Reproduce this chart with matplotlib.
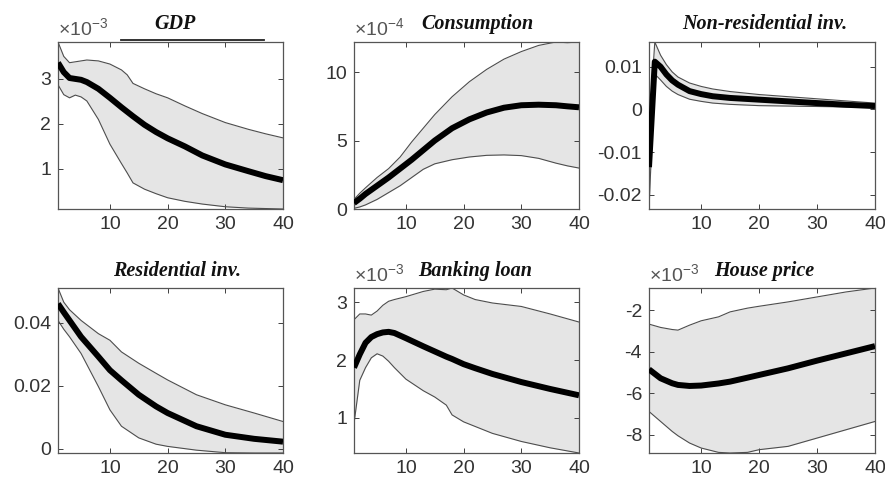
import matplotlib
matplotlib.use("Agg")
import matplotlib.pyplot as plt
from matplotlib.ticker import FuncFormatter
import numpy as np

# ---------------- data ----------------
titles = ["GDP", "Consumption", "Non-residential inv.",
          "Residential inv.", "Banking loan", "House price"]

gdp_x = [1, 2, 3, 4, 5, 6, 8, 10, 12, 13, 14, 16, 18, 20, 23, 26, 30, 34, 37, 40]
gdp_med = [3.36, 3.15, 3.02, 3.0, 2.98, 2.93, 2.78, 2.58, 2.37, 2.27, 2.17, 1.98, 1.82, 1.68, 1.5, 1.3, 1.1, 0.95, 0.84, 0.75]
gdp_up = [3.82, 3.5, 3.36, 3.38, 3.4, 3.42, 3.4, 3.33, 3.2, 3.09, 2.9, 2.78, 2.67, 2.58, 2.4, 2.23, 2.03, 1.88, 1.78, 1.69]
gdp_lo = [2.87, 2.65, 2.58, 2.64, 2.6, 2.51, 2.1, 1.55, 1.12, 0.91, 0.69, 0.55, 0.45, 0.36, 0.28, 0.22, 0.16, 0.13, 0.12, 0.11]

con_x = [1, 2, 3, 5, 7, 9, 11, 13, 15, 18, 21, 24, 27, 30, 33, 36, 38, 40]
con_med = [0.44, 0.75, 1.1, 1.7, 2.3, 2.95, 3.6, 4.3, 5.0, 5.9, 6.55, 7.05, 7.4, 7.58, 7.62, 7.58, 7.5, 7.43]
con_up = [0.7, 1.15, 1.55, 2.3, 2.95, 3.8, 4.9, 5.9, 6.9, 8.2, 9.3, 10.2, 10.95, 11.5, 11.95, 12.2, 12.15, 12.2]
con_lo = [0.05, 0.15, 0.3, 0.7, 1.2, 1.7, 2.3, 2.9, 3.3, 3.6, 3.8, 3.92, 3.95, 3.9, 3.7, 3.35, 3.15, 2.99]

nri_x = [1, 2, 3, 4, 5, 6, 8, 10, 12, 15, 20, 25, 30, 35, 40]
nri_med = [-0.0135, 0.0112, 0.0100, 0.0082, 0.0068, 0.0058, 0.0043, 0.0036, 0.0031, 0.0027, 0.0023, 0.0019, 0.0015, 0.0011, 0.0008]
nri_up = [-0.005, 0.0158, 0.0127, 0.0105, 0.0088, 0.0076, 0.0062, 0.0054, 0.0048, 0.0042, 0.0035, 0.0030, 0.0025, 0.0020, 0.0015]
nri_lo = [-0.0233, 0.0083, 0.0069, 0.0054, 0.0043, 0.0035, 0.0024, 0.0019, 0.0015, 0.0012, 0.0009, 0.0008, 0.0007, 0.0006, 0.0005]

res_x = [1, 2, 3, 5, 8, 10, 12, 15, 18, 20, 25, 30, 35, 40]
res_med = [0.0461, 0.0434, 0.0408, 0.0356, 0.0293, 0.0250, 0.0218, 0.0172, 0.0135, 0.0114, 0.0072, 0.0045, 0.0032, 0.0023]
res_up = [0.0511, 0.0466, 0.0442, 0.0408, 0.0366, 0.0345, 0.0308, 0.0272, 0.0240, 0.0219, 0.0172, 0.0140, 0.0114, 0.0087]
res_lo = [0.0408, 0.0380, 0.0356, 0.0303, 0.0198, 0.0124, 0.0072, 0.0035, 0.0015, 0.0008, -0.0004, -0.0012, -0.0013, -0.0013]

bank_x = [1, 2, 3, 4, 5, 6, 7, 8, 10, 13, 15, 17, 18, 20, 22, 25, 30, 35, 40]
bank_med = [1.87, 2.1, 2.3, 2.4, 2.45, 2.48, 2.49, 2.47, 2.38, 2.24, 2.15, 2.06, 2.02, 1.93, 1.86, 1.76, 1.62, 1.5, 1.39]
bank_up = [2.7, 2.8, 2.8, 2.78, 2.85, 2.95, 3.02, 3.05, 3.1, 3.19, 3.23, 3.22, 3.25, 3.13, 3.05, 2.99, 2.93, 2.8, 2.66]
bank_lo = [0.9, 1.65, 1.87, 2.04, 2.11, 2.07, 1.98, 1.87, 1.67, 1.47, 1.36, 1.22, 1.05, 0.93, 0.85, 0.73, 0.59, 0.48, 0.39]

hp_x = [1, 3, 5, 6, 8, 10, 13, 15, 18, 20, 25, 30, 35, 40]
hp_med = [-4.85, -5.28, -5.52, -5.6, -5.65, -5.63, -5.53, -5.44, -5.25, -5.12, -4.8, -4.43, -4.08, -3.73]
hp_up = [-2.67, -2.83, -2.93, -2.96, -2.72, -2.51, -2.32, -2.08, -1.9, -1.81, -1.6, -1.36, -1.12, -0.93]
hp_lo = [-6.88, -7.36, -7.84, -8.05, -8.4, -8.64, -8.85, -8.88, -8.85, -8.72, -8.56, -8.16, -7.76, -7.36]

# scale factors of the values above (power of ten shown above the axes)
exponents = [-3, -4, 0, 0, -3, -3]
xticks = [10, 20, 30, 40]
yticks = [[1, 2, 3], [0, 5, 10], [-0.02, -0.01, 0, 0.01],
          [0, 0.02, 0.04], [1, 2, 3], [-8, -6, -4, -2]]

panels = [(gdp_x, gdp_med, gdp_up, gdp_lo),
          (con_x, con_med, con_up, con_lo),
          (nri_x, nri_med, nri_up, nri_lo),
          (res_x, res_med, res_up, res_lo),
          (bank_x, bank_med, bank_up, bank_lo),
          (hp_x, hp_med, hp_up, hp_lo)]

# ---------------- layout ----------------
W, H = 885, 484
plt.rcParams['font.family'] = ['Liberation Sans', 'DejaVu Sans']
plt.rcParams['axes.unicode_minus'] = False
plt.rcParams['mathtext.fontset'] = 'custom'
plt.rcParams['mathtext.rm'] = 'Liberation Sans'
plt.rcParams['mathtext.it'] = 'Liberation Sans:italic'
plt.rcParams['mathtext.bf'] = 'Liberation Sans:bold'
fig = plt.figure(figsize=(W / 100, H / 100), dpi=100)

col_left = [58, 354, 649]
col_w = [225, 225, 226]
row_top = [42, 288]
row_h = [167, 165]
title_dx = [0.02, 0.05, 0.01, 0.03, 0.04, 0.01]

axis_col = '#404040'
fmt = FuncFormatter(lambda v, p: '%g' % round(v, 6))

for i, (xs, med, up, lo) in enumerate(panels):
    r, c = divmod(i, 3)
    rect = [col_left[c] / W, 1 - (row_top[r] + row_h[r]) / H, col_w[c] / W, row_h[r] / H]
    ax = fig.add_axes(rect)
    xs = np.array(xs, dtype=float)
    med = np.array(med)
    up = np.array(up)
    lo = np.array(lo)
    ax.fill_between(xs, lo, up, color='#e5e5e5', linewidth=0, zorder=1)
    ax.plot(xs, up, color='#4d4d4d', lw=0.8, zorder=2)
    ax.plot(xs, lo, color='#4d4d4d', lw=0.8, zorder=2)
    ax.plot(xs, med, color='black', lw=4.3, solid_capstyle='butt',
            solid_joinstyle='round', zorder=3)

    ax.set_xlim(1, 40)
    ax.set_ylim(min(lo.min(), up.min()), max(lo.max(), up.max()))
    ax.set_xticks(xticks)
    ax.set_yticks(yticks[i])
    ax.yaxis.set_major_formatter(fmt)
    if exponents[i] != 0:
        ax.annotate(r'$\times\mathregular{10^{%d}}$' % exponents[i],
                    xy=(0, 1), xycoords='axes fraction',
                    xytext=(0, 2), textcoords='offset points',
                    ha='left', va='bottom', fontsize=14, color='#555555')
    ax.tick_params(direction='in', length=3.5, width=0.7, top=True, right=True,
                   labelsize=14, colors='#333333', color=axis_col, pad=5)
    for sp in ax.spines.values():
        sp.set_color('#555555')
        sp.set_linewidth(0.9)
    ax.text(0.5 + title_dx[i], 1.045, titles[i], transform=ax.transAxes,
            ha='center', va='bottom', fontsize=14.5, fontweight='bold',
            fontstyle='italic', family=['Liberation Serif', 'DejaVu Serif'],
            color='#111111')
    if i == 0:
        ax.plot([0.279, 0.914], [1.012, 1.012], transform=ax.transAxes,
                color='#222222', lw=1.3, clip_on=False, zorder=5)

fig.savefig('out.png', dpi=100)
